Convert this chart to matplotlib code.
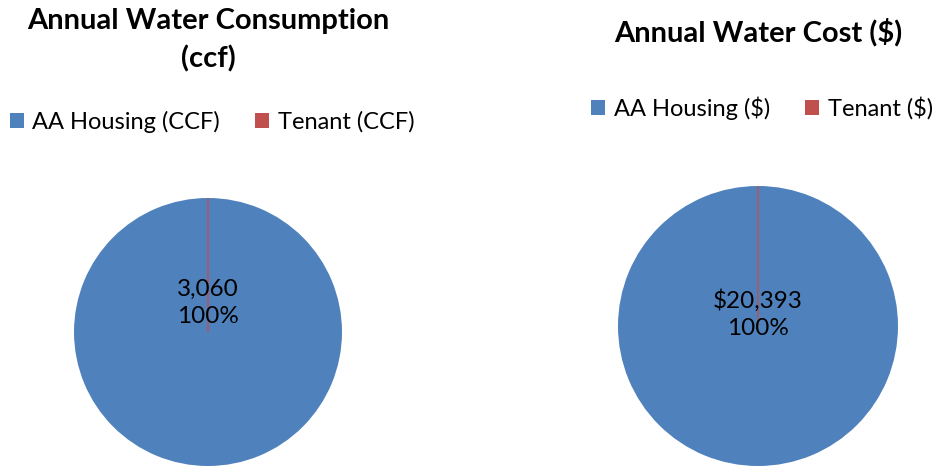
import matplotlib
matplotlib.use("Agg")
import matplotlib.pyplot as plt

# data
categories_ccf = ["AA Housing (CCF)", "Tenant (CCF)"]
values_ccf = [3060, 0]
categories_cost = ["AA Housing ($)", "Tenant ($)"]
values_cost = [20393, 0]
colors = ["#4F81BD", "#C0504D"]

W, H = 938, 467
plt.rcParams["font.family"] = ["Lato", "DejaVu Sans"]

fig = plt.figure(figsize=(W / 100, H / 100), dpi=100)
ax = fig.add_axes([0, 0, 1, 1])
ax.set_xlim(0, W)
ax.set_ylim(0, H)
ax.set_aspect("equal")
ax.axis("off")


def draw_pie(values, labels, cx, cy, r, fmt, label_dy, legend_x, legend_y):
    wedges, _ = ax.pie(values, colors=colors, center=(cx, H - cy), radius=r,
                       startangle=90, counterclock=False, frame=True)
    for w, c in zip(wedges, colors):
        w.set_edgecolor(c)
        w.set_linewidth(1.0 if w.theta2 - w.theta1 < 1 else 0)
    total = sum(values)
    txt = f"{fmt(values[0])}\n{values[0] / total:.0%}"
    ax.text(cx, H - cy + label_dy, txt, ha="center", va="center",
            fontsize=17.5, linespacing=1.4)
    leg = fig.legend(wedges, labels, loc="center", ncol=2,
                     bbox_to_anchor=(legend_x / W, 1 - legend_y / H),
                     frameon=False, fontsize=17, handlelength=0.6,
                     handleheight=0.6, handletextpad=0.35,
                     columnspacing=1.5, borderpad=0, borderaxespad=0)
    for h, c in zip(leg.legend_handles, colors):
        h.set_edgecolor(c)
        h.set_linewidth(0)
    return wedges


draw_pie(values_ccf, categories_ccf, 208, 332, 134, lambda v: f"{v:,}",
         29, 212, 122)
draw_pie(values_cost, categories_cost, 758, 326, 140, lambda v: f"${v:,}",
         12, 762, 108)

ax.set_xlim(0, W)
ax.set_ylim(0, H)

fig.text(208 / W, 1 - 40 / H, "Annual Water Consumption\n(ccf)", ha="center",
         va="center", fontsize=21, fontweight="bold", linespacing=1.5)
fig.text(758 / W, 1 - 32 / H, "Annual Water Cost ($)", ha="center",
         va="center", fontsize=21, fontweight="bold")

fig.savefig("out.png", dpi=100)
